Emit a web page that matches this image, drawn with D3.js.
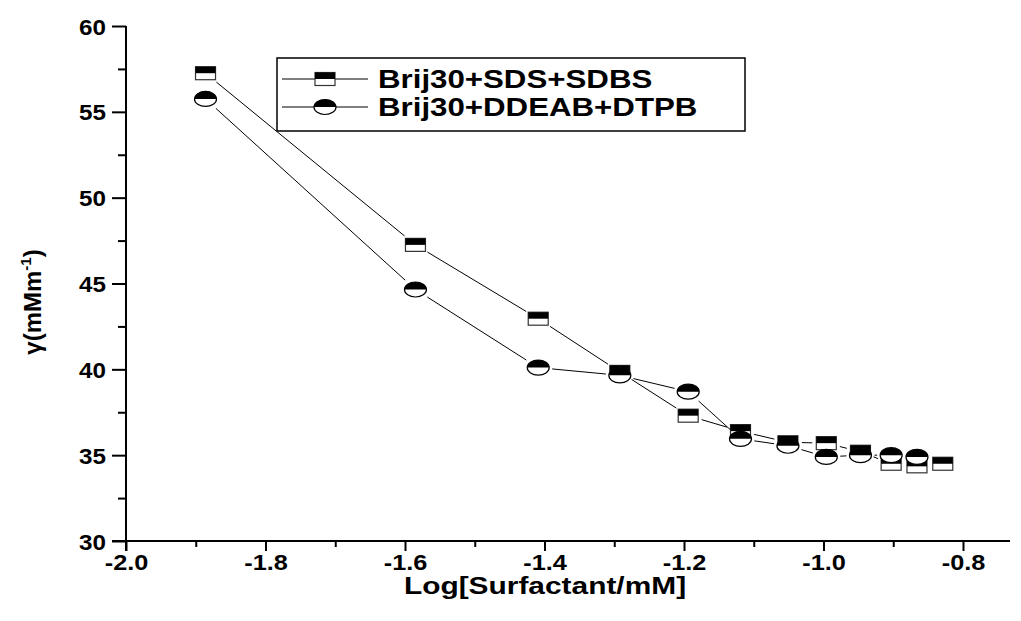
<!DOCTYPE html>
<html>
<head>
<meta charset="utf-8">
<script src="https://cdn.jsdelivr.net/npm/d3@7"></script>
<style>
  body { margin: 0; background: #fff; }
  svg { display: block; }
  text { font-family: "Liberation Sans", Arial, sans-serif; font-weight: bold; fill: #000; }
</style>
</head>
<body>
<svg id="chart" width="1021" height="621"></svg>
<script>
// Surface excess (gamma) versus log of total surfactant concentration
const logConc = [-1.886, -1.585, -1.409, -1.292, -1.194, -1.119, -1.051, -0.996, -0.947, -0.903, -0.866, -0.829];
const gammaSDS = [57.25, 47.25, 42.95, 39.85, 37.3, 36.4, 35.75, 35.7, 35.2, 34.5, 34.35, 34.5];
const gammaDDEAB = [55.75, 44.65, 40.1, 39.65, 38.7, 35.95, 35.55, 34.9, 35.0, 35.0, 34.9];
const seriesNames = ["Brij30+SDS+SDBS", "Brij30+DDEAB+DTPB"];
const xMajorTicks = [-2.0, -1.8, -1.6, -1.4, -1.2, -1.0, -0.8];
const xMinorTicks = [-1.9, -1.7, -1.5, -1.3, -1.1, -0.9];
const yMajorTicks = [30, 35, 40, 45, 50, 55, 60];
const yMinorTicks = [32.5, 37.5, 42.5, 47.5, 52.5, 57.5];
const xTitle = "Log[Surfactant/mM]";

const svg = d3.select("#chart");

const x = d3.scaleLinear().domain([-2.0, -0.8]).range([126, 963]);
const y = d3.scaleLinear().domain([30, 60]).range([541, 26]);

// text helper: bold text, optionally widened horizontally
function wideText(g, str, px, py, size, anchor, sx) {
  return g.append("text")
    .attr("transform", `translate(${px},${py}) scale(${sx},1)`)
    .attr("text-anchor", anchor || "start")
    .style("font-size", size + "px")
    .text(str);
}
const fmtX = d => d3.format(".1f")(d).replace("\u2212", "-");

// axes
const axisG = svg.append("g");
const gx = axisG.append("g").attr("transform", `translate(0,${y(30)})`)
  .call(d3.axisBottom(x).tickValues(xMajorTicks).tickSize(10).tickFormat(""));
gx.select(".domain").remove();
gx.selectAll(".tick line").attr("stroke", "#000").attr("stroke-width", 2);
gx.selectAll(".tick").each(function(d) {
  wideText(d3.select(this), fmtX(d), 0, 29, 22, "middle", 1.15);
});
const gxm = axisG.append("g").attr("transform", `translate(0,${y(30)})`)
  .call(d3.axisBottom(x).tickValues(xMinorTicks).tickSize(6).tickFormat(""));
gxm.select(".domain").remove();
gxm.selectAll(".tick line").attr("stroke", "#000").attr("stroke-width", 2);

const gy = axisG.append("g").attr("transform", `translate(${x(-2.0)},0)`)
  .call(d3.axisLeft(y).tickValues(yMajorTicks).tickSize(14).tickFormat(""));
gy.select(".domain").remove();
gy.selectAll(".tick line").attr("stroke", "#000").attr("stroke-width", 2);
gy.selectAll(".tick").each(function(d) {
  wideText(d3.select(this), String(d), -20, 8, 22, "end", 1.1);
});
const gym = axisG.append("g").attr("transform", `translate(${x(-2.0)},0)`)
  .call(d3.axisLeft(y).tickValues(yMinorTicks).tickSize(8).tickFormat(""));
gym.select(".domain").remove();
gym.selectAll(".tick line").attr("stroke", "#000").attr("stroke-width", 2);

// axis lines
axisG.append("line").attr("x1", x(-2.0) - 14).attr("x2", 1010)
  .attr("y1", y(30)).attr("y2", y(30)).attr("stroke", "#000").attr("stroke-width", 2);
axisG.append("line").attr("x1", x(-2.0)).attr("x2", x(-2.0))
  .attr("y1", y(30) + 10).attr("y2", y(60)).attr("stroke", "#000").attr("stroke-width", 2);

// axis titles
wideText(svg, xTitle, 545, 594, 23, "middle", 1.3);
const yt = svg.append("text")
  .attr("transform", "translate(41,302) rotate(-90)")
  .attr("text-anchor", "middle")
  .style("font-size", "24px");
yt.append("tspan").text("\u03B3(mMm");
yt.append("tspan").attr("dy", -10).style("font-size", "15px").text("-1");
yt.append("tspan").attr("dy", 10).text(")");

// markers: half-filled rectangle and half-filled ellipse
function squareMarker(g, cx, cy) {
  g.append("rect").attr("x", cx - 10).attr("y", cy - 6.5).attr("width", 20).attr("height", 13)
    .attr("fill", "#fff").attr("stroke", "#333").attr("stroke-width", 1.2);
  g.append("rect").attr("x", cx - 10).attr("y", cy - 6.5).attr("width", 20).attr("height", 6.5)
    .attr("fill", "#000");
}
function circleMarker(g, cx, cy) {
  const rx = 11, ry = 7.5;
  g.append("ellipse").attr("cx", cx).attr("cy", cy).attr("rx", rx).attr("ry", ry)
    .attr("fill", "#fff").attr("stroke", "#000").attr("stroke-width", 1.2);
  g.append("path")
    .attr("d", `M${cx - rx},${cy} A${rx},${ry} 0 0 1 ${cx + rx},${cy} Z`)
    .attr("fill", "#000");
}

// polyline with gaps around the markers
function gappedLine(g, pts, gap) {
  for (let i = 0; i < pts.length - 1; i++) {
    const [x0, y0] = pts[i], [x1, y1] = pts[i + 1];
    const dx = x1 - x0, dy = y1 - y0, d = Math.hypot(dx, dy);
    if (d <= 2 * gap) continue;
    const ux = dx / d, uy = dy / d;
    g.append("line")
      .attr("x1", x0 + ux * gap).attr("y1", y0 + uy * gap)
      .attr("x2", x1 - ux * gap).attr("y2", y1 - uy * gap)
      .attr("stroke", "#000").attr("stroke-width", 1);
  }
}

const series = [
  { vals: gammaSDS, marker: squareMarker },
  { vals: gammaDDEAB, marker: circleMarker }
];
const plot = svg.append("g");
series.forEach(s => {
  const pts = s.vals.map((v, i) => [x(logConc[i]), y(v)]);
  gappedLine(plot, pts, 14);
});
series.forEach(s => {
  const g = plot.append("g");
  s.vals.forEach((v, i) => s.marker(g, x(logConc[i]), y(v)));
});

// legend
const leg = svg.append("g");
leg.append("rect").attr("x", 277).attr("y", 58).attr("width", 468).attr("height", 73)
  .attr("fill", "#fff").attr("stroke", "#000").attr("stroke-width", 1.5);
series.forEach((s, i) => {
  const ly = 79 + i * 28;
  leg.append("line").attr("x1", 282).attr("x2", 368).attr("y1", ly).attr("y2", ly)
    .attr("stroke", "#000").attr("stroke-width", 1);
  s.marker(leg, 325, ly);
  wideText(leg, seriesNames[i], 378, ly + 9, 25, "start", 1.25);
});
</script>
</body>
</html>
